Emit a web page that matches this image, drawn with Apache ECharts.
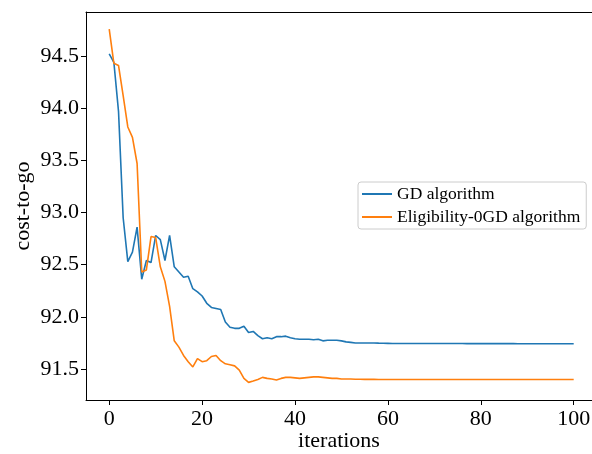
<!DOCTYPE html>
<html>
<head>
<meta charset="utf-8">
<script src="https://cdn.jsdelivr.net/npm/echarts@6/dist/echarts.min.js"></script>
<style>html,body{margin:0;padding:0;background:#fff;overflow:hidden}#c{width:592px;height:454px}</style>
</head>
<body>
<div id="c"></div>
<script>
var seriesNames = ['GD algorithm', 'Eligibility-0GD algorithm'];
var xTicks = [0, 20, 40, 60, 80, 100];
var yTicks = [91.5, 92.0, 92.5, 93.0, 93.5, 94.0, 94.5];
var gd = [94.52, 94.44, 93.97, 92.95, 92.53, 92.62, 92.86, 92.36, 92.54, 92.52,
  92.78, 92.74, 92.54, 92.78, 92.48, 92.43, 92.38, 92.39, 92.27, 92.24,
  92.20, 92.13, 92.09, 92.08, 92.07, 91.95, 91.90, 91.89, 91.89, 91.91,
  91.85, 91.86, 91.82, 91.79, 91.80, 91.79, 91.81, 91.81, 91.815, 91.80,
  91.79, 91.785, 91.785, 91.785, 91.78, 91.785, 91.77, 91.775, 91.775, 91.775,
  91.77, 91.76, 91.755, 91.75, 91.75, 91.75, 91.75, 91.75, 91.748, 91.747,
  91.746, 91.745, 91.745, 91.745, 91.745, 91.745, 91.745, 91.745, 91.745, 91.744,
  91.744, 91.744, 91.744, 91.744, 91.744, 91.744, 91.744, 91.743, 91.743, 91.743,
  91.743, 91.743, 91.743, 91.743, 91.743, 91.743, 91.743, 91.743, 91.742, 91.742,
  91.742, 91.742, 91.742, 91.742, 91.742, 91.742, 91.742, 91.742, 91.742, 91.742, 91.742];
var elig = [94.757, 94.43, 94.41, 94.12, 93.82, 93.72, 93.47, 92.43, 92.45, 92.77,
  92.76, 92.48, 92.34, 92.10, 91.77, 91.71, 91.63, 91.57, 91.52, 91.60,
  91.57, 91.58, 91.62, 91.63, 91.58, 91.55, 91.54, 91.53, 91.49, 91.41,
  91.372, 91.385, 91.40, 91.42, 91.41, 91.405, 91.395, 91.41, 91.42, 91.42,
  91.415, 91.41, 91.415, 91.42, 91.425, 91.425, 91.42, 91.415, 91.41, 91.41,
  91.405, 91.405, 91.405, 91.402, 91.402, 91.401, 91.401, 91.401, 91.40, 91.40,
  91.40, 91.40, 91.40, 91.40, 91.40, 91.40, 91.40, 91.40, 91.40, 91.40,
  91.40, 91.40, 91.40, 91.40, 91.40, 91.40, 91.40, 91.40, 91.40, 91.40,
  91.40, 91.40, 91.40, 91.40, 91.40, 91.40, 91.40, 91.40, 91.40, 91.40,
  91.40, 91.40, 91.40, 91.40, 91.40, 91.40, 91.40, 91.40, 91.40, 91.40, 91.40];

function pairs(arr) { return arr.map(function (v, i) { return [i, v]; }); }

var font = 'Liberation Serif';
var chart = echarts.init(document.getElementById('c'), null, { renderer: 'canvas' });
chart.setOption({
  animation: false,
  backgroundColor: '#fff',
  grid: { left: 86, top: 12, right: 0, bottom: 54, show: false,
    containLabel: false, outerBoundsMode: 'none' },
  xAxis: [{
    type: 'value', min: -5, max: 103.94,
    name: 'iterations', nameLocation: 'middle', nameGap: 30, nameMoveOverlap: false,
    nameTextStyle: { fontFamily: font, fontSize: 22, color: '#000' },
    axisLine: { show: true, onZero: false, lineStyle: { color: '#000', width: 1 } },
    axisTick: { show: true, inside: false, length: 5, customValues: xTicks, lineStyle: { color: '#000' } },
    axisLabel: { customValues: xTicks, fontFamily: font, fontSize: 22, color: '#000', margin: 8 },
    splitLine: { show: false }
  }, {
    type: 'value', min: -5, max: 103.94, position: 'top',
    axisLine: { show: true, onZero: false, lineStyle: { color: '#000', width: 1 } },
    axisTick: { show: false }, axisLabel: { show: false }, splitLine: { show: false }
  }],
  yAxis: {
    type: 'value', min: 91.203, max: 94.922,
    name: 'cost-to-go', nameLocation: 'middle', nameGap: 52, nameMoveOverlap: false,
    nameTextStyle: { fontFamily: font, fontSize: 22, color: '#000' },
    axisLine: { show: true, onZero: false, lineStyle: { color: '#000', width: 1 } },
    axisTick: { show: true, inside: false, length: 5, customValues: yTicks, lineStyle: { color: '#000' } },
    axisLabel: { customValues: yTicks, fontFamily: font, fontSize: 22, color: '#000', margin: 7,
      formatter: function (v) { return v.toFixed(1); } },
    splitLine: { show: false },
    splitArea: { show: false }
  },
  legend: {
    orient: 'vertical', left: 358, top: 182,
    data: seriesNames,
    icon: 'rect', itemWidth: 30, itemHeight: 2, itemGap: 3,
    padding: [2, 6, 2, 4],
    borderColor: '#cccccc', borderWidth: 1, borderRadius: 3,
    backgroundColor: 'rgba(255,255,255,0.8)',
    textStyle: { fontFamily: font, fontSize: 17.5, color: '#000', lineHeight: 20 }
  },
  graphic: [{
    type: 'rect', z: 1000, silent: true,
    shape: { x: 588, y: 13, width: 6, height: 386 },
    style: { fill: '#fff', stroke: null }
  }],
  series: [
    { name: seriesNames[0], type: 'line', data: pairs(gd), symbol: 'none', color: '#1f77b4',
      lineStyle: { width: 1.6, color: '#1f77b4' } },
    { name: seriesNames[1], type: 'line', data: pairs(elig), symbol: 'none', color: '#ff7f0e',
      lineStyle: { width: 1.6, color: '#ff7f0e' } }
  ]
});
</script>
</body>
</html>
